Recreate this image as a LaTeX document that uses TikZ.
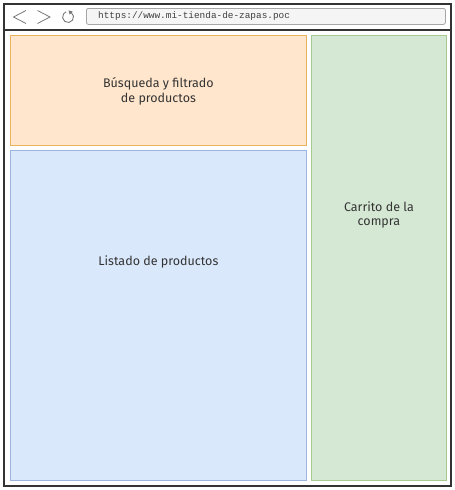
\documentclass[tikz,border=0pt]{standalone}
\usepackage{fontspec}
\setmainfont{Fira Sans}
\setmonofont{Liberation Mono}
\usepackage{tikz}

\definecolor{busqfill}{HTML}{FFE6CC}
\definecolor{busqline}{HTML}{E8B35C}
\definecolor{listfill}{HTML}{DAE8FC}
\definecolor{listline}{HTML}{9DB4DC}
\definecolor{carrfill}{HTML}{D5E8D4}
\definecolor{carrline}{HTML}{A6CB92}
\definecolor{framegray}{HTML}{333333}
\definecolor{icongray}{HTML}{777777}

\tikzset{
  panel/.style={draw, line width=0.8pt, inner sep=0pt, anchor=north west},
  paneltext/.style={align=center, font=\fontsize{12.5}{14.5}\selectfont, text=black!80},
}

\begin{document}
\begin{tikzpicture}[x=1pt,y=-1pt]
            \useasboundingbox (0,0) rectangle (455,490);
            % ventana del navegador
            \draw [framegray, line width=1.6pt] (4,4) rectangle (451,486);
            \draw [framegray, line width=1.2pt] (4,30) -- (451,30);

            % botones
            \draw [icongray, line width=0.8pt] (26,10.5) -- (13.5,17) -- (26,23.5);
            \draw [icongray, line width=0.8pt] (37.5,10.5) -- (50,17) -- (37.5,23.5);
            \draw [icongray, line width=0.9pt] (71.2,12.5) arc (-55:250:5.5);
            \fill [icongray] (68.6,10.4) -- (72.8,11.6) -- (69.6,14.6) -- cycle;

            % barra de direcciones
            \node [draw=gray!70, fill=gray!8, rounded corners=2pt, line width=0.8pt,
              minimum width=359, minimum height=16, anchor=north west,
              inner sep=0pt] (url) at (86,8) {};
            \node [anchor=west, inner sep=0pt, font=\ttfamily\fontsize{9.4}{11}\selectfont, text=black!75]
              (urltext) at ([xshift=12pt]url.west) {https://www.mi-tienda-de-zapas.poc};

            % zonas de la pagina
            \node [panel, draw=busqline, fill=busqfill, minimum width=296, minimum height=110]
              (busqueda) at (10,35) {};
            \node [panel, draw=listline, fill=listfill, minimum width=296, minimum height=330]
              (listado) at (10,150) {};
            \node [panel, draw=carrline, fill=carrfill, minimum width=135, minimum height=445]
              (carrito) at (311,35) {};

            \node [paneltext] (busqtext) at ([yshift=-1pt]busqueda.center) {B\'usqueda y filtrado\\de productos};
            \node [paneltext] (listtext) at ([yshift=53pt]listado.center) {Listado de productos};
            \node [paneltext] (carrtext) at ([yshift=43pt]carrito.center) {Carrito de la\\compra};
        \end{tikzpicture}
\end{document}
